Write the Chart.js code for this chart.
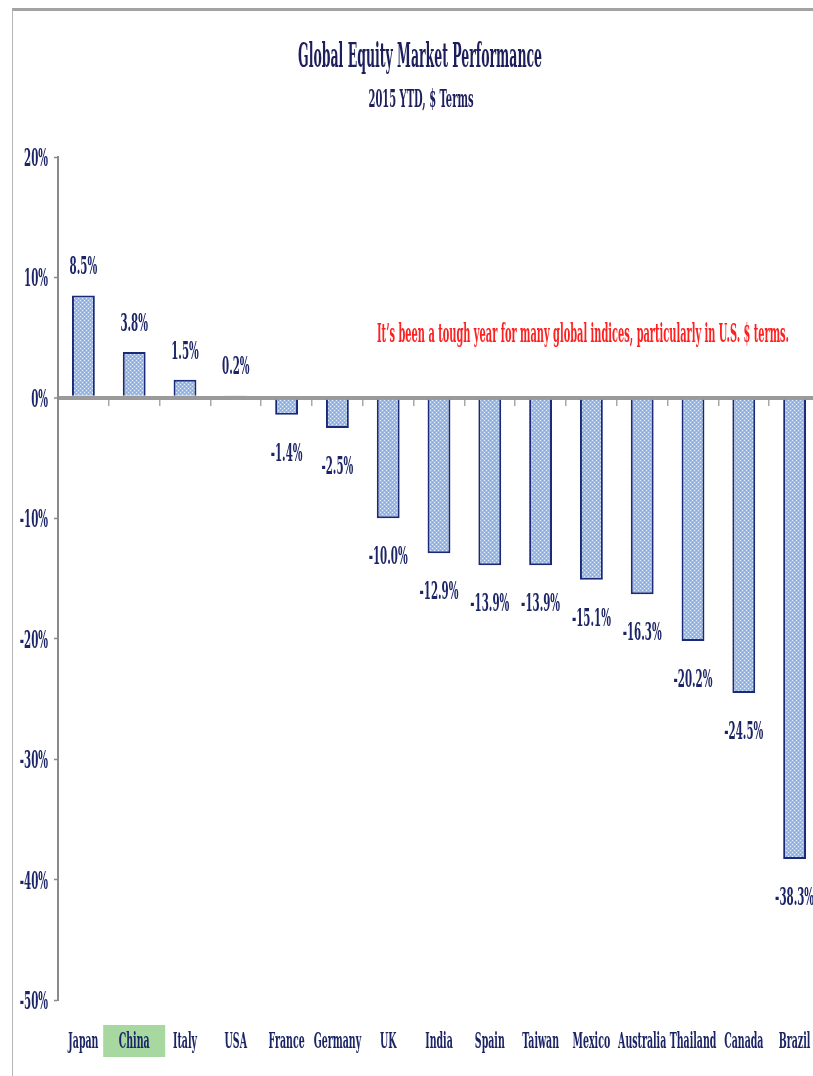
<!DOCTYPE html>
<html>
<head>
<meta charset="utf-8">
<script src="https://cdn.jsdelivr.net/npm/chart.js@4.4.0/dist/chart.umd.min.js"></script>
<style>
    html, body { margin: 0; padding: 0; background: #fff; overflow: hidden; }
    #quadro { position: relative; width: 813px; height: 1076px; overflow: hidden; }
    #grafico { position: absolute; left: 0; top: 0; }
    #moldura { position: absolute; left: 12px; top: 8px; width: 830px; height: 1100px;
        border-top: 3px solid #a3a3a3; border-left: 1px solid #b5b5b5; pointer-events: none; }
</style>
</head>
<body>
<div id="quadro">
    <canvas id="grafico" width="820" height="1076"></canvas>
    <div id="moldura"></div>
</div>
<script>
// dados (retorno 2015 YTD em dolares, %)
const paises = ["Japan", "China", "Italy", "USA", "France", "Germany", "UK", "India",
    "Spain", "Taiwan", "Mexico", "Australia", "Thailand", "Canada", "Brazil"];
const retornos = [8.5, 3.8, 1.5, 0.2, -1.4, -2.5, -10.0, -12.9, -13.9, -13.9, -15.1, -16.3, -20.2, -24.5, -38.3];
const minimoY = -50;
const maximoY = 20;
const passoY = 10;
const destaque = "China";

const titulo = "Global Equity Market Performance";
const subtitulo = "2015 YTD, $ Terms";
const nota = "It\u2019s been a tough year for many global indices, particularly in U.S. $ terms.";

const azulEscuro = '#1b2466';
const fonte = '"DejaVu Serif", "Liberation Serif", serif';
const aperto = 0.41;

// textura pontilhada das barras
function criarTextura() {
    var c = document.createElement('canvas');
    c.width = 4;
    c.height = 4;
    var g = c.getContext('2d');
    g.fillStyle = '#9cbbe8';
    g.fillRect(0, 0, 4, 4);
    g.fillStyle = '#e6eefa';
    g.fillRect(0, 0, 1, 1);
    g.fillRect(2, 2, 1, 1);
    g.fillStyle = '#86a9de';
    g.fillRect(2, 0, 1, 1);
    g.fillRect(0, 2, 1, 1);
    return g.createPattern(c, 'repeat');
}

function textoEstreito(ctx, texto, x, y, tamanho, cor, alinhamento, fator) {
    ctx.save();
    ctx.font = 'bold ' + tamanho + 'px ' + fonte;
    ctx.fillStyle = cor;
    ctx.textAlign = alinhamento;
    ctx.textBaseline = 'alphabetic';
    ctx.translate(x, y);
    ctx.scale(fator, 1);
    ctx.fillText(texto, 0, 0);
    ctx.restore();
}

function textoLargura(ctx, texto, x, y, tamanho, cor, largura) {
    ctx.save();
    ctx.font = 'bold ' + tamanho + 'px ' + fonte;
    var w = ctx.measureText(texto).width;
    ctx.restore();
    textoEstreito(ctx, texto, x, y, tamanho, cor, 'center', largura / w);
}

const textos = {
    id: 'textos',
    beforeDraw(chart) {
        var ctx = chart.ctx;
        var x = chart.scales.x;
        var cx = x.getPixelForValue(paises.indexOf(destaque));
        ctx.save();
        ctx.fillStyle = '#a6d8a0';
        ctx.fillRect(cx - 31, 1025, 62, 32);
        ctx.restore();
    },
    afterDraw(chart) {
        var ctx = chart.ctx;
        var x = chart.scales.x;
        var y = chart.scales.y;

        textoLargura(ctx, titulo, 420, 67, 34, '#1c1f5c', 244);
        textoLargura(ctx, subtitulo, 421, 107, 24, '#1c1f5c', 105);
        textoLargura(ctx, nota, 583, 342, 26, '#ff1f1f', 412);

        y.ticks.forEach(function (t) {
            var py = y.getPixelForValue(t.value);
            textoEstreito(ctx, t.value + '%', 48, py + 9, 25, azulEscuro, 'right', aperto);
        });

        paises.forEach(function (p, i) {
            textoEstreito(ctx, p, x.getPixelForValue(i), 1048, 23, azulEscuro, 'center', aperto);
        });

        var meta = chart.getDatasetMeta(0);
        meta.data.forEach(function (barra, i) {
            var v = retornos[i];
            var py = v >= 0 ? barra.y - 21 : barra.y + 46;
            textoEstreito(ctx, v.toFixed(1) + '%', barra.x, py, 25, azulEscuro, 'center', aperto);
        });
    }
};

const canvasGrafico = document.getElementById("grafico");

const dadosGrafico = {
    labels: paises,
    datasets: [
        {
            label: 'Retorno',
            data: retornos,
            xAxisID: 'x',
            yAxisID: 'y',
            backgroundColor: criarTextura(),
            borderColor: '#1a2a78',
            borderWidth: 2,
            borderSkipped: 'start',
            categoryPercentage: 1,
            barPercentage: 0.45
        }
    ]
};

const configGrafico = {
    type: 'bar',
    data: dadosGrafico,
    plugins: [textos],
    options: {
        responsive: false,
        animation: false,
        devicePixelRatio: 1,
        layout: {
            padding: { top: 157, right: 0, bottom: 0, left: 0 }
        },
        scales: {
            x: {
                type: 'category',
                position: 'bottom',
                grid: { display: false, drawTicks: false },
                border: { display: false },
                ticks: { display: false },
                afterFit: function (eixo) { eixo.height = 76; }
            },
            x2: {
                type: 'category',
                axis: 'x',
                labels: paises,
                position: { y: 0 },
                grid: {
                    offset: true,
                    drawOnChartArea: false,
                    drawTicks: true,
                    tickLength: 8,
                    color: '#a8a8a8',
                    lineWidth: 1.5
                },
                border: { display: false },
                ticks: { display: false }
            },
            y: {
                min: minimoY,
                max: maximoY,
                z: 1,
                ticks: { display: false, stepSize: passoY },
                grid: {
                    color: function (c) { return c.tick && c.tick.value === 0 ? '#9a9a9a' : 'rgba(0,0,0,0)'; },
                    lineWidth: function (c) { return c.tick && c.tick.value === 0 ? 4 : 1; },
                    tickColor: '#8a8a8a',
                    tickWidth: 1.5,
                    tickLength: 4
                },
                border: { color: '#8a8a8a', width: 2 },
                afterFit: function (eixo) { eixo.width = 58; }
            }
        },
        plugins: {
            legend: { display: false },
            title: { display: false },
            tooltip: { enabled: false }
        }
    }
};

const grafico = new Chart(canvasGrafico, configGrafico);
</script>
</body>
</html>
